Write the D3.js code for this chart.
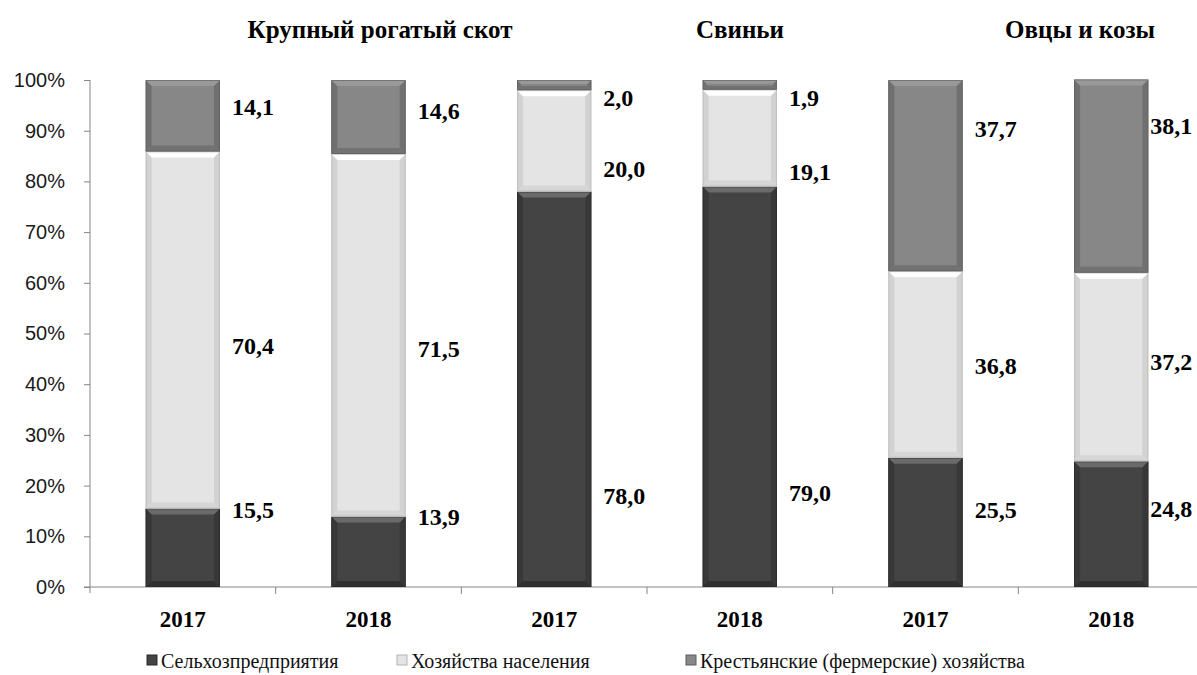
<!DOCTYPE html>
<html>
<head>
<meta charset="utf-8">
<script src="https://cdn.jsdelivr.net/npm/d3@7"></script>
<style>
  body { margin: 0; background: #fff; }
  svg { display: block; }
  .serif { font-family: "Liberation Serif", "Times New Roman", Times, "DejaVu Serif", serif; }
</style>
</head>
<body>
<div id="chart"></div>
<script>
// categories
const years = ["2017", "2018", "2017", "2018", "2017", "2018"];
const groups = ["Крупный рогатый скот", "Свиньи", "Овцы и козы"];
const seriesNames = ["Сельхозпредприятия", "Хозяйства населения", "Крестьянские (фермерские) хозяйства"];

// shares, %
const agriEnterprises = [15.5, 13.9, 78.0, 79.0, 25.5, 24.8];
const households = [70.4, 71.5, 20.0, 19.1, 36.8, 37.2];
const farms = [14.1, 14.6, 2.0, 1.9, 37.7, 38.1];

// where the value labels sit on the % scale (hand placed in the original)
const labelAtAgri = [15.2, 13.8, 18.1, 18.7, 15.2, 15.4];
const labelAtHouse = [47.7, 47.1, 82.6, 81.9, 43.6, 44.4];
const labelAtFarm = [94.7, 93.9, 96.6, 96.6, 90.5, 91.1];

const yTicks = [0, 10, 20, 30, 40, 50, 60, 70, 80, 90, 100];

const W = 1197, H = 675;
const svg = d3.select("#chart").append("svg").attr("width", W).attr("height", H);

const x = d3.scaleBand().domain(d3.range(years.length)).range([90, 1204]).paddingInner(0.6).paddingOuter(0.3);
const xb = d3.scaleBand().domain(d3.range(years.length)).range([90, 1204]);
const y = d3.scaleLinear().domain([0, 100]).range([587, 80]);

const styles = [
  { base: "#444444", top: "#6a6a6a", side: "#383838", bottom: "#303030", edge: "#2a2a2a" },
  { base: "#e4e4e4", top: "#ffffff", side: "#d2d2d2", bottom: "#d6d6d6", edge: "#b4b4b4" },
  { base: "#878787", top: "#999999", side: "#707070", bottom: "#727272", edge: "#5e5e5e" }
];

const series = [agriEnterprises, households, farms];
const labelAt = [labelAtAgri, labelAtHouse, labelAtFarm];

// y axis
const yAxis = svg.append("g")
  .attr("transform", "translate(90,0)")
  .call(d3.axisLeft(y).tickValues(yTicks).tickFormat(d => d + "%").tickSize(6).tickSizeOuter(0));
yAxis.select(".domain").attr("stroke", "#868686").attr("d", "M0,80V593");
yAxis.selectAll(".tick line").attr("stroke", "#868686");
yAxis.selectAll(".tick text")
  .attr("x", -25)
  .style("font-family", "'Liberation Sans', Arial, sans-serif")
  .style("font-size", "20px")
  .attr("fill", "#1a1a1a");

// x axis
const xAxis = svg.append("g").attr("transform", "translate(0,587)");
xAxis.append("line").attr("x1", 84).attr("x2", W).attr("stroke", "#868686");
xAxis.selectAll("line.sep")
  .data(d3.range(1, years.length))
  .join("line")
  .attr("class", "sep")
  .attr("x1", i => xb(i)).attr("x2", i => xb(i))
  .attr("y1", 0).attr("y2", 7)
  .attr("stroke", "#868686");
xAxis.selectAll("text")
  .data(years)
  .join("text")
  .attr("class", "serif")
  .attr("x", (d, i) => xb(i) + xb.bandwidth() / 2)
  .attr("y", 40)
  .attr("text-anchor", "middle")
  .attr("font-weight", "bold")
  .attr("font-size", 23)
  .text(d => d);

// stacked segments
const bw = x.bandwidth();
const bev = 6;
years.forEach((yr, i) => {
  let acc = 0;
  series.forEach((vals, s) => {
    const v0 = acc, v1 = acc + vals[i];
    acc = v1;
    const x0 = x(i), x1 = x(i) + bw;
    const yt = y(v1), yb = y(v0);
    const h = yb - yt;
    const b = Math.min(bev, h / 2.5);
    const st = styles[s];
    const g = svg.append("g");
    g.append("rect").attr("x", x0).attr("y", yt).attr("width", bw).attr("height", h).attr("fill", st.base);
    // left / right edges
    g.append("path").attr("fill", st.side)
      .attr("d", `M${x0},${yt}L${x0 + b},${yt + b}L${x0 + b},${yb - b}L${x0},${yb}Z`);
    g.append("path").attr("fill", st.side)
      .attr("d", `M${x1},${yt}L${x1 - b},${yt + b}L${x1 - b},${yb - b}L${x1},${yb}Z`);
    // bottom edge
    g.append("path").attr("fill", st.bottom)
      .attr("d", `M${x0},${yb}L${x0 + b},${yb - b}L${x1 - b},${yb - b}L${x1},${yb}Z`);
    // top highlight
    g.append("path").attr("fill", st.top)
      .attr("d", `M${x0},${yt}L${x1},${yt}L${x1 - b},${yt + b}L${x0 + b},${yt + b}Z`);
    g.append("rect").attr("x", x0 + 0.5).attr("y", yt + 0.5).attr("width", bw - 1).attr("height", Math.max(0, h - 1))
      .attr("fill", "none").attr("stroke", st.edge).attr("stroke-opacity", 0.6);
  });
});

// value labels
const fmt = v => v.toFixed(1).replace(".", ",");
series.forEach((vals, s) => {
  svg.append("g").selectAll("text")
    .data(vals)
    .join("text")
    .attr("class", "serif")
    .attr("x", (d, i) => x(i) + bw + (i === years.length - 1 ? 2 : 12))
    .attr("y", (d, i) => y(labelAt[s][i]))
    .attr("dy", "0.35em")
    .attr("font-weight", "bold")
    .attr("font-size", 24)
    .text(d => fmt(d));
});

// group titles
const titleX = [380, 740, 1080];
svg.append("g").selectAll("text")
  .data(groups)
  .join("text")
  .attr("class", "serif")
  .attr("x", (d, i) => titleX[i])
  .attr("y", 38)
  .attr("text-anchor", "middle")
  .attr("font-weight", "bold")
  .attr("font-size", 25)
  .text(d => d);

// legend
const legendX = [147, 397, 686];
const lg = svg.append("g").selectAll("g")
  .data(seriesNames)
  .join("g")
  .attr("transform", (d, i) => `translate(${legendX[i]},661)`);
lg.append("rect").attr("x", 0).attr("y", -6).attr("width", 10).attr("height", 10)
  .attr("fill", (d, i) => styles[i].base)
  .attr("stroke", (d, i) => styles[i].edge);
lg.append("text")
  .attr("class", "serif")
  .attr("x", 14)
  .attr("y", 0)
  .attr("dy", "0.35em")
  .attr("font-size", 20)
  .attr("fill", "#111")
  .text(d => d);
</script>
</body>
</html>
